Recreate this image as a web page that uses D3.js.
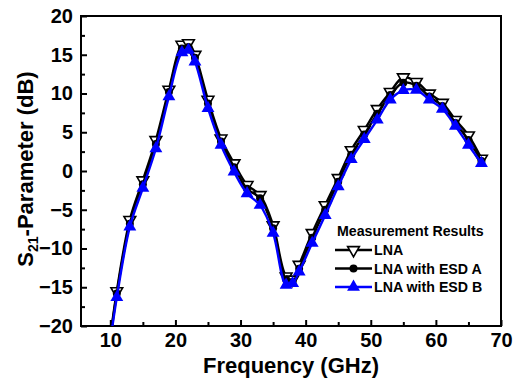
<!DOCTYPE html>
<html>
<head>
<meta charset="utf-8">
<script src="https://cdn.jsdelivr.net/npm/d3@7"></script>
<style>
  body { margin: 0; background: #fff; }
  text { font-family: "Liberation Sans", Arial, sans-serif; font-weight: bold; }
</style>
</head>
<body>
<div id="chart"></div>
<script>
// frequency points (GHz)
const freqs = [10, 11, 13, 15, 17, 19, 21, 22, 23, 25, 27, 29, 31, 33, 35, 37, 38, 39,
  41, 43, 45, 47, 49, 51, 53, 55, 57, 59, 61, 63, 65, 67];

// S21 (dB)
const lna = [-21.5, -15.5, -6.3, -1.2, 4.0, 10.5, 16.3, 16.5, 15.0, 9.2, 4.2, 1.0, -1.8, -3.1, -7.0, -13.6, -14.0, -12.1,
  -8.0, -4.4, -0.9, 2.7, 5.3, 8.0, 10.2, 12.1, 11.5, 10.0, 8.8, 6.6, 4.6, 1.6];
const esdA = [-21.8, -15.8, -6.8, -1.7, 3.5, 10.2, 15.8, 16.0, 14.6, 8.7, 3.8, 0.5, -2.3, -3.5, -7.4, -14.0, -14.3, -12.6,
  -8.6, -5.0, -1.4, 2.1, 4.7, 7.4, 9.8, 11.4, 11.0, 9.6, 8.4, 6.2, 4.0, 1.3];
const esdB = [-22.0, -16.3, -7.2, -2.2, 2.9, 9.6, 15.3, 15.6, 14.1, 8.1, 3.35, -0.1, -2.9, -4.4, -8.0, -14.7, -14.5, -13.0,
  -9.3, -5.7, -2.0, 1.5, 4.1, 6.6, 9.2, 10.4, 10.45, 9.2, 8.0, 5.8, 3.35, 1.0];

const xTicks = [10, 20, 30, 40, 50, 60, 70];
const yTicks = [-20, -15, -10, -5, 0, 5, 10, 15, 20];
const legendTitle = "Measurement Results";
const seriesNames = ["LNA", "LNA with ESD A", "LNA with ESD B"];

const W = 520, H = 383;
const margin = { top: 16, right: 19, bottom: 57, left: 81 };
const width = W - margin.left - margin.right;
const height = H - margin.top - margin.bottom;

const svg = d3.select("#chart").append("svg")
  .attr("width", W)
  .attr("height", H);

const g = svg.append("g")
  .attr("transform", `translate(${margin.left},${margin.top})`);

const x = d3.scaleLinear().domain([5.5, 70]).range([0, width]);
const y = d3.scaleLinear().domain([-20, 20]).range([height, 0]);

// clip to the plot box
svg.append("defs").append("clipPath").attr("id", "clip")
  .append("rect").attr("width", width).attr("height", height);

// axes with inward ticks (major + minor)
const minorX = d3.range(10, 70, 5).filter(v => v % 10 !== 0);
const minorY = d3.range(-17.5, 20, 5);

g.append("g").attr("transform", `translate(0,${height})`)
  .call(d3.axisBottom(x).tickValues(xTicks).tickSize(-6).tickPadding(7).tickFormat(d3.format("d")));
g.append("g").attr("transform", `translate(0,${height})`)
  .call(d3.axisBottom(x).tickValues(minorX).tickSize(-4).tickFormat(""));

g.append("g")
  .call(d3.axisLeft(y).tickValues(yTicks).tickSize(-6).tickPadding(8));
g.append("g")
  .call(d3.axisLeft(y).tickValues(minorY).tickSize(-4).tickFormat(""));

g.selectAll(".domain").remove();
g.selectAll(".tick line").attr("stroke", "#000").attr("stroke-width", 2);
g.selectAll(".tick text").attr("fill", "#000").style("font-size", "20px");

// frame
g.append("rect")
  .attr("width", width).attr("height", height)
  .attr("fill", "none").attr("stroke", "#000").attr("stroke-width", 2);

// series
const series = [
  { name: seriesNames[0], values: lna, color: "#000", marker: "down" },
  { name: seriesNames[1], values: esdA, color: "#000", marker: "circle" },
  { name: seriesNames[2], values: esdB, color: "#0000ff", marker: "up" }
];

const line = d3.line()
  .x(d => x(d.f))
  .y(d => y(d.v))
  .curve(d3.curveCatmullRom);

const triDown = d3.symbol().type(d3.symbolTriangle).size(60);
const triUp = d3.symbol().type(d3.symbolTriangle).size(72);

function drawMarker(sel, type, color) {
  if (type === "circle") {
    sel.append("circle").attr("r", 4).attr("fill", "#000");
  } else if (type === "down") {
    sel.append("path").attr("d", triDown())
      .attr("transform", "rotate(180)")
      .attr("fill", "#fff").attr("stroke", "#000").attr("stroke-width", 1.6);
  } else {
    sel.append("path").attr("d", triUp()).attr("fill", color);
  }
}

const plot = g.append("g").attr("clip-path", "url(#clip)");

series.forEach(s => {
  const pts = freqs.map((f, i) => ({ f: f, v: s.values[i] }));
  plot.append("path")
    .datum(pts)
    .attr("fill", "none")
    .attr("stroke", s.color)
    .attr("stroke-width", 2.4)
    .attr("d", line);

  plot.selectAll(null)
    .data(pts.filter(d => d.f >= 11))
    .enter().append("g")
    .attr("transform", d => `translate(${x(d.f)},${y(d.v)})`)
    .each(function () { drawMarker(d3.select(this), s.marker, s.color); });
});

// legend
const legend = g.append("g").attr("transform", "translate(256,0)");
legend.append("text")
  .attr("x", 0).attr("y", 220)
  .style("font-size", "14.2px")
  .text(legendTitle);

series.forEach((s, i) => {
  const ly = 234 + i * 18.5;
  legend.append("line")
    .attr("x1", -2).attr("x2", 35)
    .attr("y1", ly).attr("y2", ly)
    .attr("stroke", s.color).attr("stroke-width", 2.4);
  const m = legend.append("g").attr("transform", `translate(16.5,${ly})`);
  drawMarker(m, s.marker, s.color);
  legend.append("text")
    .attr("x", 37).attr("y", ly)
    .attr("dy", "0.36em")
    .style("font-size", "14.2px")
    .text(s.name);
});

// axis titles
svg.append("text")
  .attr("x", margin.left + width / 2)
  .attr("y", 373)
  .attr("text-anchor", "middle")
  .style("font-size", "22px")
  .text("Frequency (GHz)");

const yt = svg.append("text")
  .attr("transform", `translate(33,169) rotate(-90)`)
  .attr("text-anchor", "middle")
  .style("font-size", "22px");
yt.append("tspan").text("S");
yt.append("tspan").attr("dy", 5).style("font-size", "14px").text("21");
yt.append("tspan").attr("dy", -5).text("-Parameter (dB)");
</script>
</body>
</html>
